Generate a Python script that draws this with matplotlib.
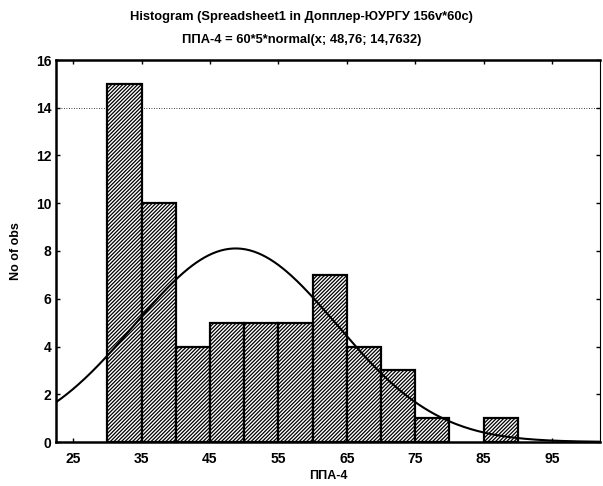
import numpy as np
import matplotlib
matplotlib.use("Agg")
import matplotlib.pyplot as plt
from matplotlib import font_manager as fm

names = {f.name for f in fm.fontManager.ttflist}
fam = 'Liberation Sans Narrow' if 'Liberation Sans Narrow' in names else 'Liberation Sans'
plt.rcParams['font.family'] = [fam, 'DejaVu Sans']
plt.rcParams['hatch.linewidth'] = 0.9

# data
bin_edges = [30, 35, 40, 45, 50, 55, 60, 65, 70, 75, 80, 85, 90]
counts = [15, 10, 4, 5, 5, 5, 7, 4, 3, 1, 0, 1]
n_obs = 60
bin_width = 5
mean = 48.76
sd = 14.7632
x_ticks = [25, 35, 45, 55, 65, 75, 85, 95]
y_ticks = [0, 2, 4, 6, 8, 10, 12, 14, 16]

x_min, x_max = 22.5, 102.0

fig = plt.figure(figsize=(6.03, 4.86), dpi=100)
ax = fig.add_axes([56 / 603, 1 - 442 / 486, (600 - 56) / 603, (442 - 60) / 486])

lefts = bin_edges[:-1]
for l, c in zip(lefts, counts):
    if c > 0:
        ax.bar(l, c, width=bin_width, align='edge', facecolor='white',
               edgecolor='black', linewidth=1.6, hatch='/////////', zorder=2)

xs = np.linspace(x_min, x_max, 400)
ys = n_obs * bin_width * np.exp(-0.5 * ((xs - mean) / sd) ** 2) / (sd * np.sqrt(2 * np.pi))
ax.plot(xs, ys, color='black', linewidth=1.5, zorder=3)

ax.axhline(14, color='black', linestyle=(0, (1, 2)), linewidth=0.6, zorder=1)

ax.set_xlim(x_min, x_max)
ax.set_ylim(0, 16)
ax.set_xticks(x_ticks)
ax.set_yticks(y_ticks)
ax.tick_params(direction='in', length=3, width=1, top=True, right=True,
               labelsize=10)
ax.tick_params(axis='x', pad=7)
for lab in ax.get_xticklabels() + ax.get_yticklabels():
    lab.set_fontweight('bold')
for s in ['left', 'bottom', 'top']:
    ax.spines[s].set_linewidth(1.8)
ax.spines['right'].set_linewidth(0.8)

ax.set_xlabel('ППА-4', fontsize=9, fontweight='bold', labelpad=3)
ax.set_ylabel('No of obs', fontsize=9, fontweight='bold', labelpad=10)

fig.text(0.5, 0.965, 'Histogram (Spreadsheet1 in Допплер-ЮУРГУ 156v*60c)',
         ha='center', va='center', fontsize=9.3, fontweight='bold')
fig.text(0.5, 0.918, 'ППА-4 = 60*5*normal(x; 48,76; 14,7632)',
         ha='center', va='center', fontsize=9.3, fontweight='bold')

fig.savefig('out.png', dpi=100)
